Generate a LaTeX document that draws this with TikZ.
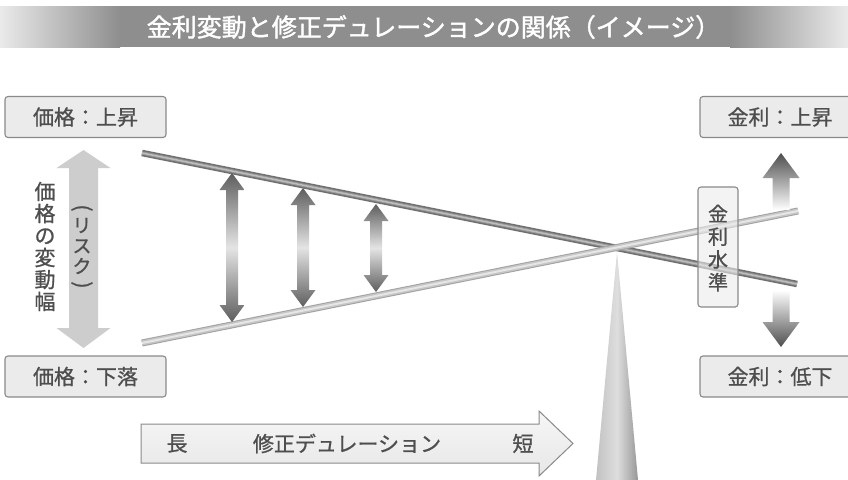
\documentclass[tikz,border=0pt]{standalone}
\usepackage{fontspec}
\setmainfont{Noto Sans CJK JP}
\newfontfamily\titlefont[FakeBold=1.6]{Noto Sans CJK JP}
\newfontfamily\lblfont[FakeBold=0.9]{Noto Sans CJK JP}
\definecolor{txt}{HTML}{4E4E4E}
\definecolor{band}{HTML}{8E8E8E}
\definecolor{bandend}{HTML}{EAEAEA}
\definecolor{boxfill}{HTML}{EBEBEB}
\definecolor{boxline}{HTML}{8A8A8A}
\definecolor{darkarr}{HTML}{5E5E5E}
\definecolor{lightarr}{HTML}{E4E4E4}
\definecolor{bigarr}{HTML}{CDCDCD}
\definecolor{beamdark}{HTML}{707070}
\definecolor{beammid}{HTML}{949494}
\definecolor{beamhi}{HTML}{BEBEBE}
\definecolor{lbeamedge}{HTML}{A2A2A2}
\definecolor{lbeammid}{HTML}{C6C6C6}
\definecolor{lbeamhi}{HTML}{E6E6E6}
\definecolor{coneL}{HTML}{C2C2C2}
\definecolor{coneM}{HTML}{DEDEDE}
\definecolor{coneR}{HTML}{979797}
\definecolor{durfillA}{HTML}{F6F6F6}
\definecolor{durfillB}{HTML}{E7E7E7}
\newcommand\dblarrowshape[6]{%
  \shade[top color=darkarr, bottom color=darkarr, middle color=lightarr]
    (#1,#2) -- (#1+#4,#2+#6) -- (#1+#5,#2+#6) -- (#1+#5,#3-#6) -- (#1+#4,#3-#6)
    -- (#1,#3) -- (#1-#4,#3-#6) -- (#1-#5,#3-#6) -- (#1-#5,#2+#6) -- (#1-#4,#2+#6) -- cycle;}
\begin{document}
\begin{tikzpicture}[x=1pt,y=-1pt,
  lblbox/.style={draw=boxline, fill=boxfill, line width=1.1pt, rounded corners=3pt,
     inner sep=0pt, text=txt, font=\lblfont\fontsize{21}{22}\selectfont},
  plain/.style={inner sep=0pt, text=txt},
]
\useasboundingbox (0,0) rectangle (848,479);
\clip (0,0) rectangle (848,479);
\fill[white] (0,0) rectangle (848,479);

% title band
\shade[left color=bandend, right color=band] (0,6) rectangle (120,47);
\fill[band] (119.5,6) rectangle (730.5,47);
\shade[left color=band, right color=bandend] (730,6) rectangle (848,47);
\node[inner sep=0pt, text=white, font=\titlefont\fontsize{25}{25}\selectfont] (title) at (433.5,27)
  {金利変動と修正デュレーションの関係（イメージ）};

% label boxes
\node[lblbox, minimum width=161pt, minimum height=41pt] (pup) at (85.5,117) {価格：上昇};
\node[lblbox, minimum width=161pt, minimum height=41pt] (pdown) at (85.5,376.5) {価格：下落};
\node[lblbox, minimum width=160pt, minimum height=41pt] (rup) at (780,117) {金利：上昇};
\node[lblbox, minimum width=160pt, minimum height=41pt] (rdown) at (780,376.5) {金利：低下};

% big light double arrow
\fill[bigarr] (83.5,150) -- (110.5,168) -- (98,168) -- (98,328) -- (110.5,328) -- (83.5,348)
  -- (56.5,328) -- (69,328) -- (69,168) -- (56.5,168) -- cycle;
\node[plain, align=center, font=\lblfont\fontsize{21}{22}\selectfont] (width) at (45,246.5)
  {価\\格\\の\\変\\動\\幅};
\node[plain, align=center, font=\lblfont\fontsize{19}{20.5}\selectfont] (risk) at (82,246) {リ\\ス\\ク};
\node[plain, rotate=-90, font=\lblfont\fontsize{21}{21}\selectfont] (lpar) at (82,208) {(};
\node[plain, rotate=-90, font=\lblfont\fontsize{21}{21}\selectfont] (rpar) at (82,285) {)};

% fulcrum
\coordinate (apex) at (617,252);
\coordinate (baseL) at (596,480);
\coordinate (baseR) at (638,480);
\shade[left color=coneL, right color=coneR, middle color=coneM] (apex) -- (baseR) -- (baseL) -- cycle;

% beams
\coordinate (a1) at (142,153);
\coordinate (a2) at (797,284);
\coordinate (b1) at (142,343);
\coordinate (b2) at (798,211);
\draw[line width=6.5pt, beamdark] (a1) -- (a2);
\draw[line width=3.5pt, beammid, yshift=0.8pt] (a1) -- (a2);
\draw[line width=1.4pt, beamhi, yshift=1.6pt] (a1) -- (a2);
\draw[line width=7pt, lbeamedge] (b1) -- (b2);
\draw[line width=5pt, lbeammid, yshift=0.8pt] (b1) -- (b2);
\draw[line width=2pt, lbeamhi, yshift=1.5pt] (b1) -- (b2);

% variation arrows
\dblarrowshape{232}{173}{322}{12.5}{6}{17}
\dblarrowshape{303}{188}{307}{12.5}{6}{17}
\dblarrowshape{376}{204}{292}{12.5}{6}{17}

% interest rate level box
\fill[boxfill, opacity=0.6, rounded corners=3pt] (698,187) rectangle (738,307);
\draw[boxline, line width=1.1pt, rounded corners=3pt] (698,187) rectangle (738,307);
\node[plain, align=center, font=\lblfont\fontsize{20}{22.8}\selectfont] (level) at (718,248)
  {金\\利\\水\\準};

% right arrows
\shade[top color=darkarr!110, bottom color=white] (781,153) -- (799.5,178) -- (789.5,178)
  -- (789.5,210) -- (772.5,210) -- (772.5,178) -- (762.5,178) -- cycle;
\shade[top color=white, bottom color=darkarr!110] (772.5,290) -- (789.5,290) -- (789.5,322)
  -- (799.5,322) -- (781,347) -- (762.5,322) -- (772.5,322) -- cycle;

% duration arrow
\draw[draw=boxline, line width=1pt, top color=durfillA, bottom color=durfillB]
  (141,424) -- (539,424) -- (539,411) -- (573,443.5) -- (539,476) -- (539,463) -- (141,463) -- cycle;
\node[plain, font=\lblfont\fontsize{21}{21}\selectfont] (long) at (177,443.5) {長};
\node[plain, font=\lblfont\fontsize{21}{21}\selectfont] (md) at (347,443.5) {修正デュレーション};
\node[plain, font=\lblfont\fontsize{21}{21}\selectfont] (short) at (523,443.5) {短};
\end{tikzpicture}
\end{document}
